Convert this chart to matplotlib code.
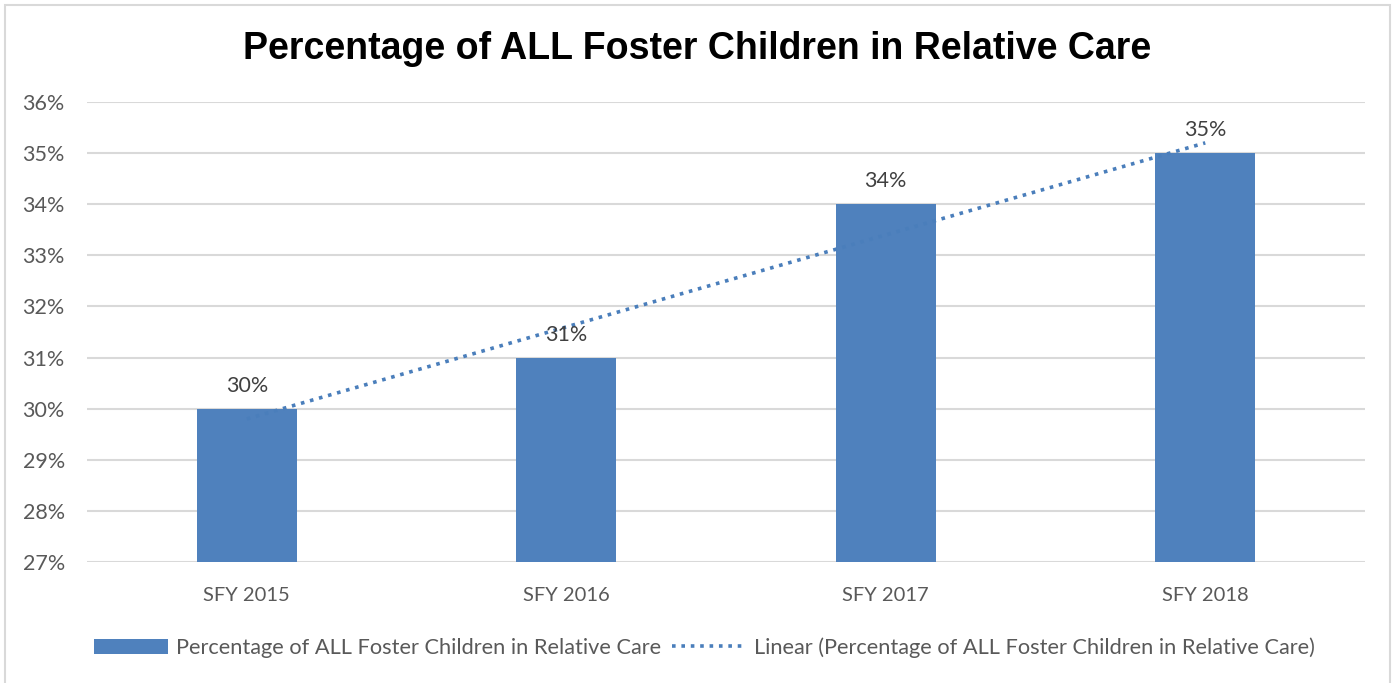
import numpy as np
import matplotlib.pyplot as plt
from matplotlib.patches import Rectangle

categories = ["SFY 2015", "SFY 2016", "SFY 2017", "SFY 2018"]
values = [30, 31, 34, 35]
series_name = "Percentage of ALL Foster Children in Relative Care"
title = "Percentage of ALL Foster Children in Relative Care"

bar_color = "#4f81bd"
grid_color = "#d9d9d9"
txt_color = "#595959"

plt.rcParams['font.family'] = ['Lato', 'DejaVu Sans']

fig = plt.figure(figsize=(13.95, 6.83), dpi=100)
ax = fig.add_axes([0.0624, 0.177, 0.9161, 0.6737])

x = np.arange(len(categories))
bars = ax.bar(x, values, width=0.313, color=bar_color, label=series_name, zorder=2)

# linear trendline
k, b = np.polyfit(x + 1, values, 1)
trend = k * (x + 1) + b
ax.plot(x, trend, linestyle=(0, (1, 1.6)), color="#4a7ebb", linewidth=2.6,
        label="Linear (" + series_name + ")", zorder=3)

for xi, v in zip(x, values):
    ax.text(xi, v + 0.25, f"{v}%", ha="center", va="bottom", fontsize=15.5, color="#404040", zorder=4)

ax.set_xlim(-0.5, 3.5)
ax.set_ylim(27, 36)
ax.set_yticks(range(27, 37))
ax.set_yticklabels([f"{t}%" for t in range(27, 37)])
ax.set_xticks(x)
ax.set_xticklabels(categories)
ax.tick_params(axis="both", length=0, labelcolor=txt_color)
ax.tick_params(axis="y", pad=16, labelsize=15.5)
ax.tick_params(axis="x", pad=18, labelsize=14.5)
ax.grid(axis="y", color=grid_color, linewidth=1.5, zorder=0)
ax.set_axisbelow(True)
for s in ax.spines.values():
    s.set_visible(False)

fig.text(0.5, 0.928, title, ha="center", va="center", fontsize=27, fontweight="bold",
         family="Liberation Sans", color="black")

h, l = ax.get_legend_handles_labels()
order = [l.index(series_name), l.index("Linear (" + series_name + ")")]
leg = fig.legend([h[i] for i in order], [l[i] for i in order],
                 loc="center", bbox_to_anchor=(0.505, 0.052), ncol=2, frameon=False,
                 fontsize=15.7, handlelength=3.4, handletextpad=0.35, columnspacing=0.5)
for t in leg.get_texts():
    t.set_color(txt_color)

# chart border
fig.patches.append(Rectangle((5 / 1395, -0.01), 1385 / 1395, 0.9999 - 5 / 683 + 0.01,
                             transform=fig.transFigure, fill=False,
                             edgecolor="#d9d9d9", linewidth=1.5))

fig.savefig("out.png", dpi=100)
